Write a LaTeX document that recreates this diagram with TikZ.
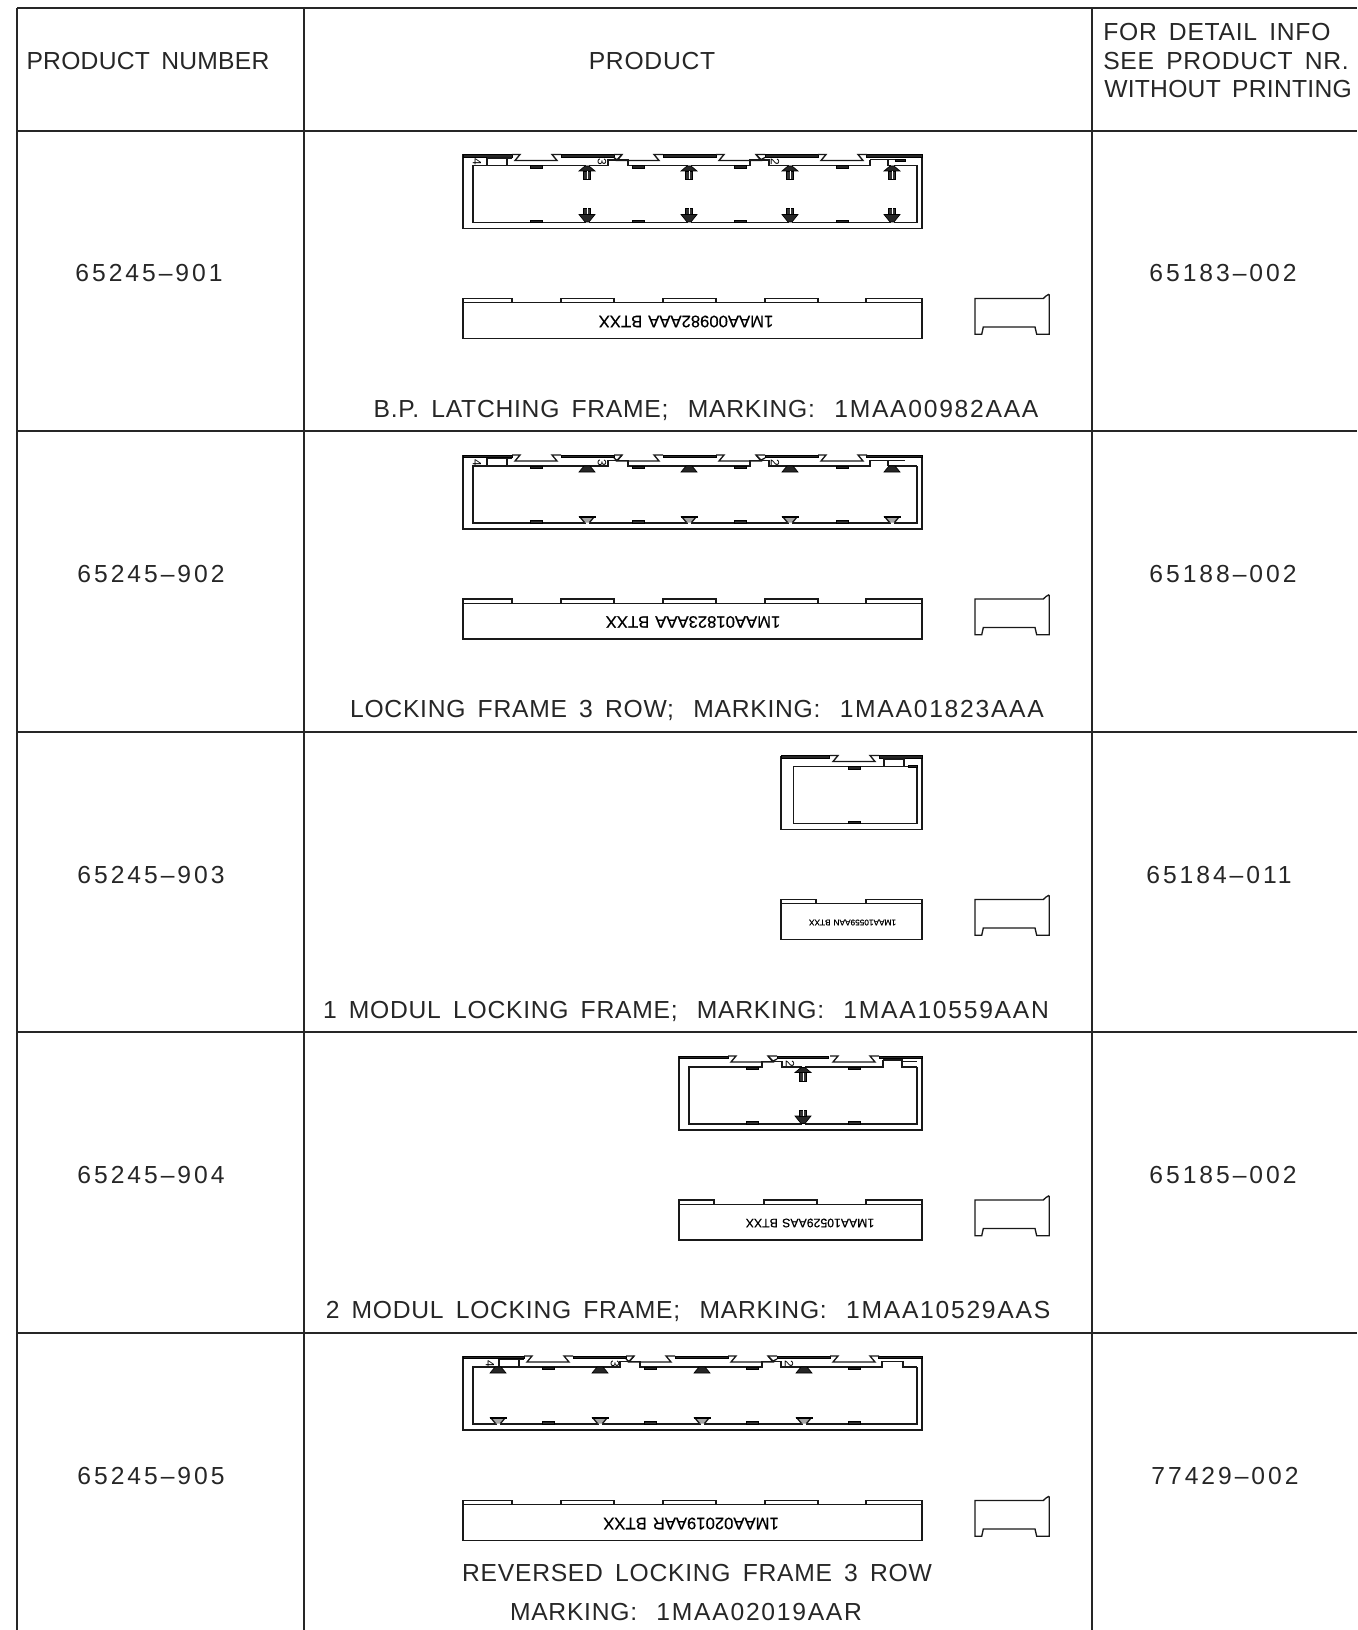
\documentclass[tikz,border=0pt]{standalone}
\usepackage{fontspec}
\setmainfont[LetterSpace=3.0,WordSpace=1.6]{Liberation Sans}
\newfontfamily\tightfont[LetterSpace=1.0,WordSpace=1.6]{Liberation Sans}
\newfontfamily\codefont[LetterSpace=7,WordSpace=1.6]{Liberation Sans}
\newfontfamily\numfont[LetterSpace=12]{Liberation Sans}
\newfontfamily\markfont[LetterSpace=0,WordSpace=1.3,FakeBold=0.4]{Liberation Sans}
\newcommand{\capgap}{\hspace{14.5pt}}
\tikzset{
  tablerule/.style={line width=1.5pt,draw=black!85},
  partline/.style={line width=1pt,draw=black!90,line join=miter},
  partbar/.style={draw=black,line width=0.5pt,fill=black!85},
  celltext/.style={font=\fontsize{18.5}{20}\selectfont,inner sep=0pt,text=black!85},
  marktext/.style={rotate=180,inner sep=0pt,text=black},
  modnum/.style={rotate=-90,inner sep=0pt,font=\fontsize{9}{9}\selectfont},
}
% top view pieces, local coordinates of one frame
\newcommand{\outerwall}[1]{\draw[partline] (0,0) -- (0,74) -- (#1,74) -- (#1,0);}
\newcommand{\padbar}[2]{\draw[partbar] (#1,0) rectangle (#2,2.8);}
\newcommand{\dovetail}[1]{%
  \draw[partline] (#1-8,0) -- (#1,0) -- (#1-5,6) -- (#1+37,6) -- (#1+32,0) -- (#1+41,0);}
\newcommand{\hookleft}[1]{\draw[partline] (#1,3) -- (#1+3,5.5) -- (#1+8,0);}
\newcommand{\hookright}[1]{\draw[partline] (#1,0) -- (#1+5,5) -- (#1+9,3);}
\newcommand{\lugtop}[1]{\draw[partbar] (#1-6,11) rectangle (#1+6,13.5);}
\newcommand{\lugbot}[1]{\draw[partbar] (#1-6,65.8) rectangle (#1+6,68);}
\newcommand{\screwtop}[1]{%
  \fill[white] (#1-1.5,10) rectangle (#1+1.5,12);
  \draw[partbar] (#1-2,11.5) -- (#1-8,16.5) -- (#1+8,16.5) -- (#1+2,11.5) -- cycle;
  \draw[partbar,fill=black!80] (#1-3.5,16.5) rectangle (#1+3.5,25);
  \draw[white,line width=0.25pt] (#1,17) -- (#1,25);}
\newcommand{\screwbot}[1]{%
  \fill[white] (#1-1.5,67) rectangle (#1+1.5,69);
  \draw[partbar] (#1-2,67.5) -- (#1-8,60) -- (#1+8,60) -- (#1+2,67.5) -- cycle;
  \draw[partbar,fill=black!80] (#1-3.5,60) rectangle (#1+3.5,54);
  \draw[white,line width=0.25pt] (#1,54) -- (#1,60);}
\newcommand{\wedgetop}[1]{\draw[partbar] (#1-3,11) -- (#1-8,17) -- (#1+8,17) -- (#1+3,11) -- cycle;}
\newcommand{\wedgebot}[1]{%
  \fill[white] (#1-1.5,67) rectangle (#1+1.5,69);
  \draw[partline,fill=black!35] (#1-2.5,67.5) -- (#1-7,62) -- (#1+7,62) -- (#1+2.5,67.5);
  \draw[partbar] (#1-8,61) rectangle (#1+8,62.8);}
% four module frame, #1 is the shift of the pattern
\newcommand{\fourtop}[1]{%
  \outerwall{459}
  \padbar{0}{#1+49}
  \foreach \px in {98,200,302}{\padbar{#1+\px}{#1+\px+53}}
  \padbar{#1+403}{459}
  \foreach \dx in {57,159,261,363}{\dovetail{#1+\dx}}
  \hookleft{#1+151} \hookright{#1+293}
  \draw[partline] (#1+24,3.4) -- (#1+49,3.4);
  \draw[partline] (#1+44,3.4) -- (#1+44,11);
  \draw[partline] (#1+24,3.4) -- (#1+24,11);
  \draw[partline] (454,11) -- (454,68) -- (10,68) -- (10,11) -- (#1+145,11) -- (#1+145,5.5) -- (#1+165,5.5)
    -- (#1+165,11) -- (#1+287,11) -- (#1+287,5.5) -- (#1+306,5.5) -- (#1+306,11) -- (#1+407,11) -- (#1+407,5.3);}
\newcommand{\sideview}[5]{% width, mark x, font size, node name, mark
  \draw[partline] (0,4.3) rectangle (#1,40);
  \node[marktext,font=\fontsize{#3}{#3}\selectfont\markfont] (#4) at (#2,23) {#5};}
\newcommand{\sidepad}[2]{\draw[partline] (#1,4.3) -- (#1,0) -- (#2,0) -- (#2,4.3);}
\newcommand{\profileview}{%
  \draw[partline] (0,0) -- (68.3,0) -- (71,-2.5) -- (73.5,-4) -- (74.3,-3.5) -- (74.3,35.8) -- (61.7,35.8)
    -- (60,28.5) -- (8.3,28.5) -- (6.7,35.8) -- (0,35.8) -- cycle;}

\begin{document}
\begin{tikzpicture}[x=0.75pt,y=0.75pt,yscale=-1,xscale=1]
\useasboundingbox (0,0) rectangle (1357,1630);

%table
\draw[tablerule] (17,8) -- (1357,8);
\foreach \ry in {131,431,732,1032,1333}{\draw[tablerule] (17,\ry) -- (1357,\ry);}
\foreach \cx in {17,304,1092}{\draw[tablerule] (\cx,8) -- (\cx,1630);}

%header
\node[celltext] (headnumber) at (148,61) {\tightfont PRODUCT NUMBER};
\node[celltext] (headproduct) at (652,61) {PRODUCT};
\node[celltext,anchor=west] (headinfoa) at (1103,32) {FOR DETAIL INFO};
\node[celltext,anchor=west] (headinfob) at (1103,61) {SEE PRODUCT NR.};
\node[celltext,anchor=west] (headinfoc) at (1104,89) {\tightfont WITHOUT PRINTING};

%numbers
\node[celltext] (numa) at (149,273.5) {\numfont 65245–901};
\node[celltext] (numb) at (151,574) {\numfont 65245–902};
\node[celltext] (numc) at (151,875) {\numfont 65245–903};
\node[celltext] (numd) at (151,1175) {\numfont 65245–904};
\node[celltext] (nume) at (151,1476) {\numfont 65245–905};
\node[celltext] (infoa) at (1223,273.5) {\numfont 65183–002};
\node[celltext] (infob) at (1223,574) {\numfont 65188–002};
\node[celltext] (infoc) at (1219,875) {\numfont 65184–011};
\node[celltext] (infod) at (1223,1175) {\numfont 65185–002};
\node[celltext] (infoe) at (1225,1476) {\numfont 77429–002};

%captions
\node[celltext] (capa) at (706,410) {B.P. LATCHING FRAME;\capgap MARKING:\capgap {\codefont 1MAA00982AAA}};
\node[celltext] (capb) at (697,710) {LOCKING FRAME 3 ROW;\capgap MARKING:\capgap {\codefont 1MAA01823AAA}};
\node[celltext] (capc) at (686,1011) {1 MODUL LOCKING FRAME;\capgap MARKING:\capgap {\codefont 1MAA10559AAN}};
\node[celltext] (capd) at (688,1311) {2 MODUL LOCKING FRAME;\capgap MARKING:\capgap {\codefont 1MAA10529AAS}};
\node[celltext] (cape) at (697,1573) {REVERSED LOCKING FRAME 3 ROW};
\node[celltext] (capf) at (686,1612) {MARKING:\capgap {\codefont 1MAA02019AAR}};

%row 1
\begin{scope}[shift={(463,154.5)}]
  \fourtop{0}
  \draw[partline] (407,5.3) -- (442,5.3); \draw[partline] (425,5.3) -- (425,11) -- (454,11);
  \draw[partbar] (432,4.5) rectangle (442,6.5);
  \foreach \sx in {73,175,277,379}{\lugtop{\sx} \lugbot{\sx}}
  \foreach \sx in {124,226,327,429}{\screwtop{\sx} \screwbot{\sx}}
  \node[modnum] (numfoura) at (14,7.5) {4};
  \node[modnum] (numthreea) at (139,7.5) {3};
  \node[modnum] (numtwoa) at (312,7.5) {2};
\end{scope}
\begin{scope}[shift={(463,298.5)}]
  \sideview{459}{223}{12.5}{markrowa}{1MAA00982AAA  BTXX}
  \foreach \px/\qx in {0/49,98/151,200/253,302/355,403/459}{\sidepad{\px}{\qx}}
  \draw[partline] (151,4.3) -- (159,4.3);
\end{scope}
\begin{scope}[shift={(975,298.5)}] \profileview \end{scope}

%row 2
\begin{scope}[shift={(463,455)}]
  \fourtop{0}
  \draw[partline] (407,5.3) -- (442,5.3); \draw[partline] (425,11) -- (425,5.3); \draw[partline] (425,11) -- (454,11);
  \foreach \sx in {73,175,277,379}{\lugtop{\sx} \lugbot{\sx}}
  \foreach \sx in {124,226,327,429}{\wedgetop{\sx} \wedgebot{\sx}}
  \node[modnum] (numfourb) at (14,7.5) {4};
  \node[modnum] (numthreeb) at (139,7.5) {3};
  \node[modnum] (numtwob) at (312,7.5) {2};
\end{scope}
\begin{scope}[shift={(463,599)}]
  \sideview{459}{230}{12.5}{markrowb}{1MAA01823AAA  BTXX}
  \foreach \px/\qx in {0/49,98/151,200/253,302/355,403/459}{\sidepad{\px}{\qx}}
  \draw[partline] (151,4.3) -- (159,4.3);
\end{scope}
\begin{scope}[shift={(975,599)}] \profileview \end{scope}

%row 3
\begin{scope}[shift={(781,755.5)}]
  \outerwall{141}
  \padbar{0}{48} \padbar{98}{141}
  \dovetail{57}
  \draw[partline] (136,11) -- (136,68) -- (12.5,68) -- (12.5,11) -- (136,11);
  \draw[partline] (103,11) -- (103,3.4) -- (123,3.4) -- (123,11);
  \draw[partbar] (127,10) rectangle (136,11.5);
  \lugtop{73} \lugbot{73}
\end{scope}
\begin{scope}[shift={(781,899.5)}]
  \sideview{141}{71.5}{6.2}{markrowc}{1MAA10559AAN  BTXX}
  \sidepad{0}{35} \sidepad{85}{141}
\end{scope}
\begin{scope}[shift={(975,899.5)}] \profileview \end{scope}

%row 4
\begin{scope}[shift={(679,1056)}]
  \outerwall{243}
  \padbar{0}{49} \padbar{98}{149} \padbar{200}{243}
  \dovetail{57} \dovetail{159}
  \hookright{89}
  \draw[partline] (238,11) -- (238,68) -- (10,68) -- (10,11) -- (83,11) -- (83,5.5) -- (103,5.5) -- (103,11) -- (204,11) -- (204,4);
  \draw[partline] (204,4) -- (223,4) -- (223,11) -- (238,11);
  \draw[partline] (223,5.3) -- (238,5.3);
  \foreach \sx in {73,175}{\lugtop{\sx} \lugbot{\sx}}
  \screwtop{124} \screwbot{124}
  \node[modnum] (numtwod) at (111,7.5) {2};
\end{scope}
\begin{scope}[shift={(679,1200)}]
  \sideview{243}{131}{9.2}{markrowd}{1MAA10529AAS  BTXX}
  \sidepad{0}{35} \sidepad{85}{138} \sidepad{187}{243}
\end{scope}
\begin{scope}[shift={(975,1200)}] \profileview \end{scope}

%row 5
\begin{scope}[shift={(463,1356)}]
  \fourtop{12}
  \draw[partline] (419,5.3) -- (440,5.3) -- (440,11) -- (454,11);
  \foreach \sx in {85,187,289,391}{\lugtop{\sx} \lugbot{\sx}}
  \foreach \sx in {35,137,239,341}{\wedgetop{\sx} \wedgebot{\sx}}
  \node[modnum] (numfoure) at (27,7.5) {4};
  \node[modnum] (numthreee) at (152,7.5) {3};
  \node[modnum] (numtwoe) at (326,7.5) {2};
\end{scope}
\begin{scope}[shift={(463,1500.5)}]
  \sideview{459}{228}{12.5}{markrowe}{1MAA02019AAR  BTXX}
  \foreach \px/\qx in {0/49,98/151,200/253,302/355,403/459}{\sidepad{\px}{\qx}}
  \draw[partline] (151,4.3) -- (159,4.3);
\end{scope}
\begin{scope}[shift={(975,1500.5)}] \profileview \end{scope}

\end{tikzpicture}
\end{document}
